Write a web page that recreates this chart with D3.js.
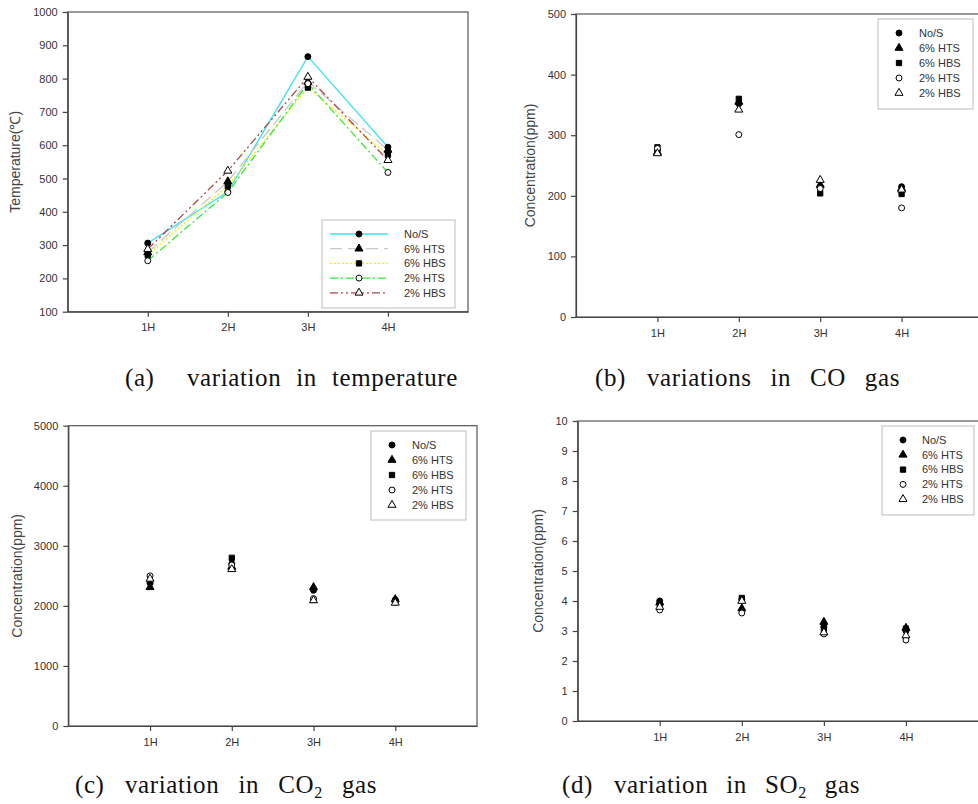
<!DOCTYPE html>
<html>
<head>
<meta charset="utf-8">
<script src="https://cdn.jsdelivr.net/npm/d3@7"></script>
<style>
  body { margin: 0; background: #fff; }
  text { font-family: "Liberation Sans", Arial, sans-serif; }
</style>
</head>
<body>
<script>
// categories and series
var hours = ["1H", "2H", "3H", "4H"];
var seriesNames = ["No/S", "6% HTS", "6% HBS", "2% HTS", "2% HBS"];

// values, one row per series (No/S, 6% HTS, 6% HBS, 2% HTS, 2% HBS)
var temperature = [
    [306, 460, 866, 594],
    [278, 491, 790, 586],
    [270, 478, 773, 571],
    [253, 458, 785, 518],
    [288, 523, 805, 555]
];
var coGas = [
    [275, 352, 215, 215],
    [272, 355, 218, 212],
    [280, 360, 204, 203],
    [278, 301, 212, 180],
    [270, 342, 226, 210]
];
var co2Gas = [
    [2380, 2700, 2260, 2100],
    [2310, 2650, 2310, 2110],
    [2400, 2800, 2100, 2080],
    [2500, 2680, 2120, 2060],
    [2450, 2610, 2090, 2050]
];
var so2Gas = [
    [4.0, 4.05, 3.15, 3.0],
    [3.95, 3.75, 3.3, 3.1],
    [3.9, 4.1, 3.05, 3.08],
    [3.7, 3.6, 2.9, 2.7],
    [3.8, 4.0, 2.95, 2.85]
];

// tick labels
var tempTicks = [100, 200, 300, 400, 500, 600, 700, 800, 900, 1000];
var coTicks = [0, 100, 200, 300, 400, 500];
var co2Ticks = [0, 1000, 2000, 3000, 4000, 5000];
var so2Ticks = [0, 1, 2, 3, 4, 5, 6, 7, 8, 9, 10];

// styles per series
var symbols = [d3.symbolCircle, d3.symbolTriangle, d3.symbolSquare, d3.symbolCircle, d3.symbolTriangle];
var fills = ["#000", "#000", "#000", "#fff", "#fff"];
var lineColors = ["#3fe3f2", "#c8c8c8", "#f2f200", "#33e833", "#a84848"];
var dashes = [null, "12,6", "2,2", "8,3,2,3", "8,3,2,3,2,3"];

var svg = d3.select("body").append("svg")
    .attr("width", 978)
    .attr("height", 804);

var panels = [
    {data: temperature, ticks: tempTicks, dom: [100, 1000], title: "Temperature(\u2103)", lines: true,
     x0: 67.7, x1: 468, y0: 12, y1: 311.7, tx: 15,
     leg: {x: 322, y: 220, w: 133, h: 88, mx: 359, txt: 404, r0: 234, step: 14.7},
     cap: {label: "(a)", parts: [["variation in temperature"]], x0: 125, xm: 187, x1: 458, base: 386}},
    {data: coGas, ticks: coTicks, dom: [0, 500], title: "Concentration(ppm)", lines: false,
     x0: 576, x1: 983, y0: 14, y1: 317, tx: 530,
     leg: {x: 878, y: 19, w: 95, h: 90, mx: 899, txt: 919, r0: 33, step: 15},
     cap: {label: "(b)", parts: [["variations in CO gas"]], x0: 595, xm: 647, x1: 900, base: 386}},
    {data: co2Gas, ticks: co2Ticks, dom: [0, 5000], title: "Concentration(ppm)", lines: false,
     x0: 68.3, x1: 477, y0: 425.7, y1: 726, tx: 17,
     leg: {x: 371, y: 431, w: 95, h: 89, mx: 392, txt: 412, r0: 445, step: 15},
     cap: {label: "(c)", parts: [["variation in CO"], ["2", true], [" gas"]], x0: 75, xm: 125, x1: 377, base: 793}},
    {data: so2Gas, ticks: so2Ticks, dom: [0, 10], title: "Concentration(ppm)", lines: false,
     x0: 577.7, x1: 988, y0: 421, y1: 721, tx: 538,
     leg: {x: 882, y: 426, w: 92, h: 89, mx: 903, txt: 922, r0: 440, step: 14.8},
     cap: {label: "(d)", parts: [["variation in SO"], ["2", true], [" gas"]], x0: 562, xm: 614, x1: 860, base: 793}}
];

panels.forEach(function(p) {
    var g = svg.append("g");
    var x = d3.scaleLinear().domain([0, 5]).range([p.x0, p.x1]);
    var y = d3.scaleLinear().domain(p.dom).range([p.y1, p.y0]);

    // frame
    g.append("rect")
        .attr("x", p.x0).attr("y", p.y0)
        .attr("width", p.x1 - p.x0).attr("height", p.y1 - p.y0)
        .attr("fill", "none").attr("stroke", "#555").attr("stroke-width", 1.2);

    var yAxis = g.append("g")
        .attr("transform", "translate(" + p.x0 + ",0)")
        .call(d3.axisLeft(y).tickValues(p.ticks).tickFormat(function(d) { return String(d); })
            .tickSize(5).tickPadding(5).tickSizeOuter(0));
    var xAxis = g.append("g")
        .attr("transform", "translate(0," + p.y1 + ")")
        .call(d3.axisBottom(x).tickValues([1, 2, 3, 4]).tickFormat(function(d) { return hours[d - 1]; })
            .tickSize(5).tickPadding(7).tickSizeOuter(0));
    [yAxis, xAxis].forEach(function(a) {
        a.selectAll("path, line").attr("stroke", "#444").attr("stroke-width", 1.2);
        a.selectAll("text").attr("fill", "#333").style("font-size", "11px")
            .style("font-family", "'Liberation Sans', Arial, sans-serif");
    });

    g.append("text")
        .attr("transform", "translate(" + p.tx + "," + ((p.y0 + p.y1) / 2) + ") rotate(-90)")
        .attr("text-anchor", "middle").attr("dy", "0.35em")
        .attr("fill", "#444").style("font-size", "14px")
        .text(p.title);

    // lines
    if (p.lines) {
        p.data.forEach(function(vals, i) {
            var line = d3.line().x(function(d, j) { return x(j + 1); }).y(function(d) { return y(d); });
            g.append("path").datum(vals)
                .attr("d", line)
                .attr("fill", "none")
                .attr("stroke", lineColors[i])
                .attr("stroke-width", 1.3)
                .attr("stroke-dasharray", dashes[i]);
        });
    }

    // markers
    p.data.forEach(function(vals, i) {
        g.selectAll(null).data(vals).enter().append("path")
            .attr("d", d3.symbol().type(symbols[i]).size(28))
            .attr("transform", function(d, j) { return "translate(" + x(j + 1) + "," + y(d) + ")"; })
            .attr("fill", fills[i])
            .attr("stroke", "#000")
            .attr("stroke-width", 1);
    });

    // legend
    var L = p.leg;
    g.append("rect")
        .attr("x", L.x).attr("y", L.y).attr("width", L.w).attr("height", L.h)
        .attr("fill", "#fff").attr("stroke", "#c8c8c8").attr("stroke-width", 1.2);
    seriesNames.forEach(function(name, i) {
        var ry = L.r0 + i * L.step;
        if (p.lines) {
            g.append("line")
                .attr("x1", L.mx - 29).attr("x2", L.mx + 29)
                .attr("y1", ry).attr("y2", ry)
                .attr("stroke", lineColors[i]).attr("stroke-width", 1.3)
                .attr("stroke-dasharray", dashes[i]);
        }
        g.append("path")
            .attr("d", d3.symbol().type(symbols[i]).size(28))
            .attr("transform", "translate(" + L.mx + "," + ry + ")")
            .attr("fill", fills[i]).attr("stroke", "#000").attr("stroke-width", 1);
        g.append("text")
            .attr("x", L.txt).attr("y", ry).attr("dy", "0.35em")
            .attr("fill", "#333").style("font-size", "11px")
            .text(name);
    });

    // caption: label, then the description stretched to its measured width
    var c = p.cap;
    var serif = "'Liberation Serif', 'Times New Roman', serif";
    g.append("text")
        .attr("x", c.x0).attr("y", c.base)
        .attr("fill", "#111")
        .style("font-family", serif).style("font-size", "25px").style("letter-spacing", "0.6px")
        .text(c.label);
    var t = g.append("text")
        .attr("x", c.xm).attr("y", c.base)
        .attr("fill", "#111")
        .style("font-family", serif).style("font-size", "25px").style("letter-spacing", "0.6px");
    c.parts.forEach(function(part, k) {
        var ts = t.append("tspan").text(part[0]);
        if (part[1]) ts.attr("dy", 5).style("font-size", "16px");
        else if (k > 0 && c.parts[k - 1][1]) ts.attr("dy", -5);
    });
    var full = c.parts.map(function(q) { return q[0]; }).join("");
    var spaces = full.split(" ").length - 1;
    var natural = t.node().getComputedTextLength();
    t.style("word-spacing", ((c.x1 - c.xm - natural) / spaces) + "px");
});
</script>
</body>
</html>
